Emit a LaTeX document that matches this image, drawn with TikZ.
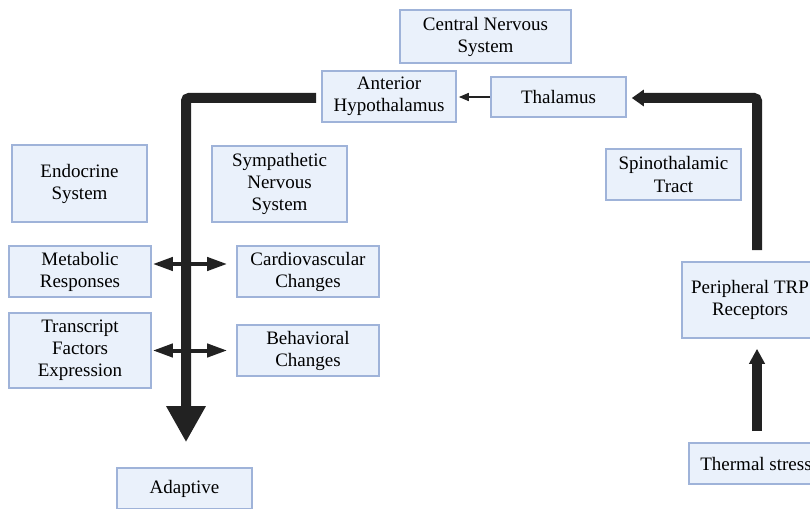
\documentclass[tikz,border=0pt]{standalone}
\usepackage{fontspec}
\setmainfont{Liberation Serif}
\usetikzlibrary{arrows.meta}
\definecolor{boxfill}{HTML}{EAF1FB}
\definecolor{boxline}{HTML}{9FB3D9}
\definecolor{arr}{HTML}{222222}
\begin{document}
\begin{tikzpicture}[x=1pt,y=-1pt,
  box/.style={draw=boxline,fill=boxfill,line width=1.6pt,inner sep=0pt,align=center,
    font=\fontsize{19}{22}\selectfont},
  bigarrow/.style={draw=arr,line width=10pt,rounded corners=3pt},
  thinarrow/.style={draw=arr,line width=1.6pt,-{Triangle[length=10pt,width=8pt]}},
  dblarrow/.style={draw=arr,line width=4pt,{Triangle[length=20pt,width=13pt]}-{Triangle[length=20pt,width=13pt]}}
]
\useasboundingbox (0,0) rectangle (810,508);
\clip (0,0) rectangle (810,508);
\fill[white] (0,0) rectangle (810,508);
% boxes
\node[box,minimum width=171pt,minimum height=53pt] (cns) at (485.5,36.5) {Central Nervous\\System};
\node[box,minimum width=134pt,minimum height=51pt] (ah) at (389,96.5) {Anterior\\Hypothalamus};
\node[box,minimum width=135pt,minimum height=40pt] (thal) at (558.5,97) {Thalamus};
\node[box,minimum width=135pt,minimum height=77pt] (endo) at (79.5,183.5) {Endocrine\\System};
\node[box,minimum width=135pt,minimum height=76pt] (symp) at (279.5,184) {Sympathetic\\Nervous\\System};
\node[box,minimum width=135pt,minimum height=51pt] (spino) at (673.5,174.5) {Spinothalamic\\Tract};
\node[box,minimum width=142pt,minimum height=51pt] (metab) at (80,271.5) {Metabolic\\Responses};
\node[box,minimum width=142pt,minimum height=51pt] (cardio) at (308,271.5) {Cardiovascular\\Changes};
\node[box,minimum width=142pt,minimum height=75pt] (trans) at (80,350.5) {Transcript\\Factors\\Expression};
\node[box,minimum width=142pt,minimum height=51pt] (behav) at (308,350.5) {Behavioral\\Changes};
\node[box,minimum width=136pt,minimum height=76pt] (periph) at (750,300) {Peripheral TRP\\Receptors};
\node[box,minimum width=134pt,minimum height=41pt] (thermal) at (756,463.5) {Thermal stress};
\node[box,minimum width=135pt,minimum height=41pt] (adaptive) at (184.5,488.5) {Adaptive};
% connector end points
\coordinate (ahStart) at ([xshift=-5pt,yshift=-1.5pt]ah.west);
\coordinate (adTip) at ([xshift=1.5pt,yshift=25pt]adaptive.north);
\coordinate (peStart) at ([xshift=7pt,yshift=11pt]periph.north);
\coordinate (thTip) at ([xshift=5pt,yshift=-1pt]thal.east);
% connectors
\draw[thinarrow] (thal.west) -- ([xshift=2pt]thal.west -| ah.east);
\draw[bigarrow,-{Triangle[length=36pt,width=37pt]}] (ahStart) -| (adTip);
\draw[bigarrow,-{Triangle[length=12pt,width=16pt]}] (peStart) |- (thTip);
\draw[bigarrow,-{Triangle[length=15pt,width=15pt]}] ([xshift=1pt,yshift=11pt]thermal.north) -- ([xshift=7pt,yshift=-10pt]periph.south);
\draw[dblarrow] ([xshift=1pt,yshift=7.5pt]metab.east) -- ([xshift=-9pt,yshift=7.5pt]cardio.west);
\draw[dblarrow] ([xshift=1pt]trans.east) -- ([xshift=-9pt]trans.east -| behav.west);
\end{tikzpicture}
\end{document}
